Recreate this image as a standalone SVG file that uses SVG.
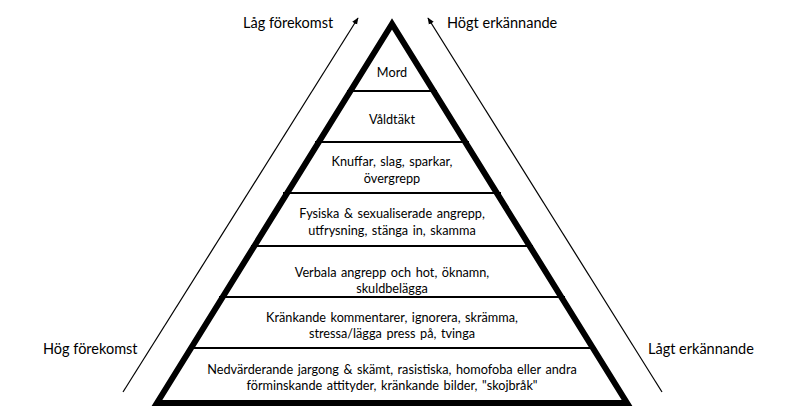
<svg xmlns="http://www.w3.org/2000/svg" width="800" height="420" viewBox="0 0 800 420">
<style>
.t{font-family:Lato,"Liberation Sans",sans-serif;font-size:12.7px;fill:#000;text-anchor:middle;word-spacing:1.3px}
.s{font-family:Lato,"Liberation Sans",sans-serif;font-size:14.5px;fill:#000}
.band{stroke:#000;stroke-width:2;fill:none}
.arr{stroke:#000;stroke-width:1.2;fill:none;marker-end:url(#ah)}
</style>
<defs>
<marker id="ah" viewBox="0 0 10 10" refX="9" refY="5" markerWidth="7" markerHeight="7" markerUnits="userSpaceOnUse" orient="auto">
<path d="M0,1 L10,5 L0,9 Z" fill="#000"/>
</marker>
</defs>
<rect width="800" height="420" fill="#fff"/>
<g id="connectors">
<line class="arr" x1="123" y1="392" x2="358" y2="18"/>
<line class="arr" x1="662" y1="392" x2="428" y2="18"/>
</g>
<g id="labels">
<text class="s" x="243" y="28">Låg förekomst</text>
<text class="s" x="447" y="28">Högt erkännande</text>
<text class="s" x="43" y="354">Hög förekomst</text>
<text class="s" x="648" y="354">Lågt erkännande</text>
</g>
<g id="pyramid">
<polygon points="392,24 157,403 627,403" fill="none" stroke="#000" stroke-width="6" stroke-linejoin="miter"/>
<line class="band" x1="347" y1="91" x2="437" y2="91"/>
<line class="band" x1="315" y1="142" x2="469" y2="142"/>
<line class="band" x1="283" y1="193" x2="501" y2="193"/>
<line class="band" x1="251" y1="246" x2="533" y2="246"/>
<line class="band" x1="219" y1="297" x2="565" y2="297"/>
<line class="band" x1="188" y1="348" x2="596" y2="348"/>
</g>
<g id="n1"><text class="t" x="392" y="77">Mord</text></g>
<g id="n2"><text class="t" x="392" y="124">Våldtäkt</text></g>
<g id="n3"><text class="t" x="392" y="166">Knuffar, slag, sparkar,</text><text class="t" x="392" y="183">övergrepp</text></g>
<g id="n4"><text class="t" x="392" y="218">Fysiska &amp; sexualiserade angrepp,</text><text class="t" x="392" y="235">utfrysning, stänga in, skamma</text></g>
<g id="n5"><text class="t" x="392" y="277">Verbala angrepp och hot, öknamn,</text><text class="t" x="392" y="293">skuldbelägga</text></g>
<g id="n6"><text class="t" x="392" y="322">Kränkande kommentarer, ignorera, skrämma,</text><text class="t" x="392" y="338">stressa/lägga press på, tvinga</text></g>
<g id="n7"><text class="t" x="392" y="374">Nedvärderande jargong &amp; skämt, rasistiska, homofoba eller andra</text><text class="t" x="392" y="390">förminskande attityder, kränkande bilder, "skojbråk"</text></g>
</svg>
